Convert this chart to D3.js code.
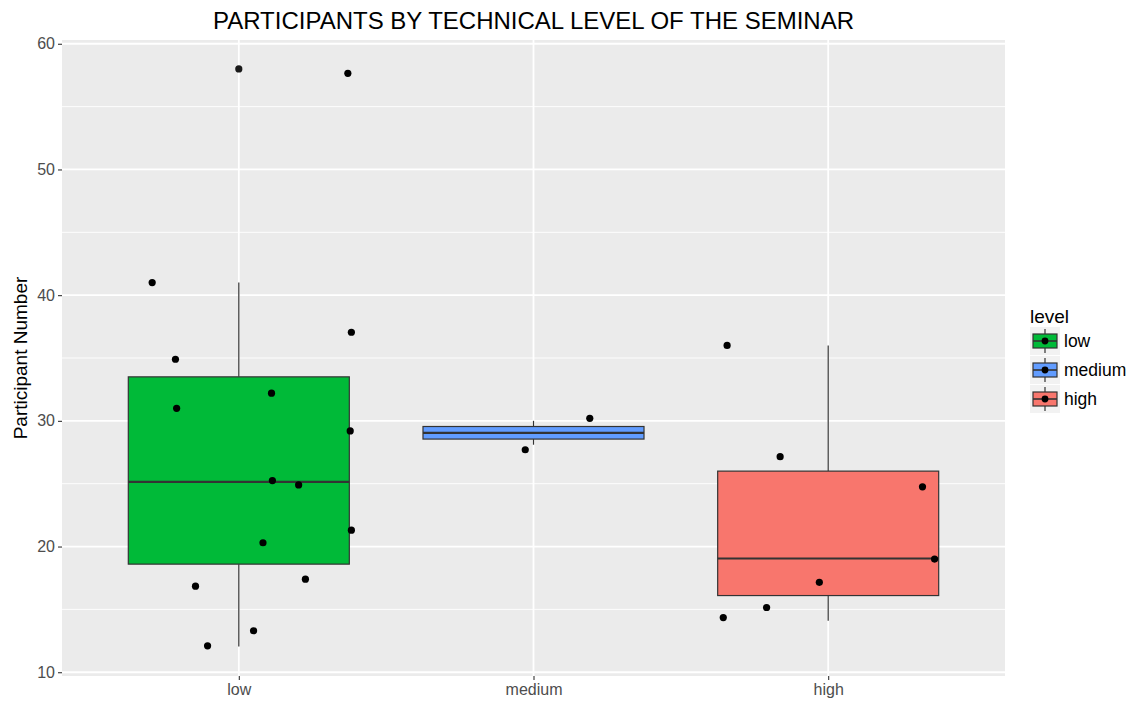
<!DOCTYPE html>
<html>
<head>
<meta charset="utf-8">
<script src="https://cdn.jsdelivr.net/npm/d3@7"></script>
<style>
  body { margin: 0; background: #fff; }
  text { font-family: "Liberation Sans", Arial, sans-serif; }
</style>
</head>
<body>
<div id="chart"></div>
<script>
// categories and colours
var levels = ["low", "medium", "high"];
var levelColors = ["#00BA38", "#619CFF", "#F8766D"];

// box statistics
var q1 = [18.6, 28.55, 16.1];
var medians = [25.15, 29.05, 19.05];
var q3 = [33.5, 29.55, 26.0];
var whiskerLow = [12.05, 28.1, 14.1];
var whiskerHigh = [41.0, 30.0, 36.0];

// outliers (drawn at the category centre)
var outlierLevel = ["low"];
var outlierValue = [58.0];

// jittered observations: level, value, horizontal offset (category units)
var pointLevel = ["low","low","low","low","low","low","low","low","low","low","low","low","low","low","low",
                  "medium","medium",
                  "high","high","high","high","high","high","high"];
var pointValue = [41.0, 37.05, 34.9, 32.2, 31.0, 29.2, 25.25, 24.9, 21.3, 20.3, 17.4, 16.85, 13.3, 12.1, 57.65,
                  30.2, 27.7,
                  36.0, 27.15, 24.75, 19.0, 17.15, 15.15, 14.35];
var pointJitter = [-0.294, 0.382, -0.215, 0.111, -0.211, 0.378, 0.114, 0.203, 0.382, 0.082, 0.226, -0.147, 0.05, -0.106, 0.37,
                   0.191, -0.028,
                   -0.343, -0.163, 0.32, 0.361, -0.03, -0.209, -0.356];

var yTicks = [10, 20, 30, 40, 50, 60];
var yMinor = [15, 25, 35, 45, 55];

var W = 1133, H = 706;
var margin = { top: 40, right: 128, bottom: 30, left: 62 };
var width = W - margin.left - margin.right,
    height = H - margin.top - margin.bottom;

var svg = d3.select("#chart").append("svg")
    .attr("width", W).attr("height", H);

var g = svg.append("g").attr("transform", "translate(" + margin.left + "," + margin.top + ")");

var x = d3.scalePoint().domain(levels).range([0, width]).padding(0.6);
var step = x.step();
var y = d3.scaleLinear().domain([9.7, 60.3]).range([height, 0]);
var color = d3.scaleOrdinal().domain(levels).range(levelColors);

// panel
g.append("rect").attr("width", width).attr("height", height).attr("fill", "#EBEBEB");

g.selectAll("line.minor").data(yMinor).enter().append("line")
    .attr("x1", 0).attr("x2", width)
    .attr("y1", function (d) { return y(d); }).attr("y2", function (d) { return y(d); })
    .attr("stroke", "#fff").attr("stroke-width", 0.9);

g.selectAll("line.major").data(yTicks).enter().append("line")
    .attr("x1", 0).attr("x2", width)
    .attr("y1", function (d) { return y(d); }).attr("y2", function (d) { return y(d); })
    .attr("stroke", "#fff").attr("stroke-width", 1.8);

g.selectAll("line.vmajor").data(levels).enter().append("line")
    .attr("x1", function (d) { return x(d); }).attr("x2", function (d) { return x(d); })
    .attr("y1", 0).attr("y2", height)
    .attr("stroke", "#fff").attr("stroke-width", 1.8);

// axes
var yAxis = g.append("g").call(d3.axisLeft(y).tickValues(yTicks).tickSize(4).tickPadding(3));
var xAxis = g.append("g").attr("transform", "translate(0," + height + ")")
    .call(d3.axisBottom(x).tickSize(4).tickPadding(4));
[yAxis, xAxis].forEach(function (a) {
    a.select(".domain").remove();
    a.selectAll(".tick line").attr("stroke", "#333").attr("stroke-width", 1.1);
    a.selectAll(".tick text").attr("fill", "#4D4D4D").style("font-size", "16px")
        .style("font-family", "'Liberation Sans', Arial, sans-serif");
});

// boxes
var boxW = 0.75 * step;
var boxes = g.selectAll("g.box").data(levels).enter().append("g").attr("class", "box");

boxes.append("line")
    .attr("x1", function (d) { return x(d); }).attr("x2", function (d) { return x(d); })
    .attr("y1", function (d, i) { return y(whiskerHigh[i]); })
    .attr("y2", function (d, i) { return y(q3[i]); })
    .attr("stroke", "#333").attr("stroke-width", 1.2);
boxes.append("line")
    .attr("x1", function (d) { return x(d); }).attr("x2", function (d) { return x(d); })
    .attr("y1", function (d, i) { return y(q1[i]); })
    .attr("y2", function (d, i) { return y(whiskerLow[i]); })
    .attr("stroke", "#333").attr("stroke-width", 1.2);
boxes.append("rect")
    .attr("x", function (d) { return x(d) - boxW / 2; })
    .attr("width", boxW)
    .attr("y", function (d, i) { return y(q3[i]); })
    .attr("height", function (d, i) { return y(q1[i]) - y(q3[i]); })
    .attr("fill", function (d) { return color(d); })
    .attr("stroke", "#333").attr("stroke-width", 1.2);
boxes.append("line")
    .attr("x1", function (d) { return x(d) - boxW / 2; })
    .attr("x2", function (d) { return x(d) + boxW / 2; })
    .attr("y1", function (d, i) { return y(medians[i]); })
    .attr("y2", function (d, i) { return y(medians[i]); })
    .attr("stroke", "#333").attr("stroke-width", 2.2);

// outliers
g.selectAll("circle.out").data(outlierValue).enter().append("circle")
    .attr("cx", function (d, i) { return x(outlierLevel[i]); })
    .attr("cy", function (d) { return y(d); })
    .attr("r", 3.6).attr("fill", "#1a1a1a");

// jittered points
g.selectAll("circle.pt").data(pointValue).enter().append("circle")
    .attr("cx", function (d, i) { return x(pointLevel[i]) + pointJitter[i] * step; })
    .attr("cy", function (d) { return y(d); })
    .attr("r", 3.6).attr("fill", "#000");

// title
svg.append("text")
    .attr("x", margin.left + width / 2).attr("y", 29)
    .attr("text-anchor", "middle")
    .style("font-size", "24px").attr("fill", "#000")
    .text("PARTICIPANTS BY TECHNICAL LEVEL OF THE SEMINAR");

// y axis title
svg.append("text")
    .attr("transform", "translate(27," + (margin.top + height / 2) + ") rotate(-90)")
    .attr("text-anchor", "middle")
    .style("font-size", "19px").attr("fill", "#000")
    .text("Participant Number");

// legend
var lg = svg.append("g").attr("transform", "translate(1030,323)");
lg.append("text").attr("x", 0).attr("y", 0)
    .style("font-size", "19px").attr("fill", "#000").text("level");

var keyH = 29, keyW = 30;
var keys = lg.selectAll("g.key").data(levels).enter().append("g")
    .attr("transform", function (d, i) { return "translate(0," + (4 + i * keyH) + ")"; });
keys.append("rect").attr("width", keyW).attr("height", keyH - 1).attr("fill", "#F2F2F2");
keys.append("line")
    .attr("x1", keyW / 2).attr("x2", keyW / 2).attr("y1", 2).attr("y2", keyH - 3)
    .attr("stroke", "#333").attr("stroke-width", 1.2);
keys.append("rect")
    .attr("x", 3).attr("y", 7).attr("width", keyW - 6).attr("height", keyH - 15)
    .attr("fill", function (d) { return color(d); })
    .attr("stroke", "#333").attr("stroke-width", 1.2);
keys.append("line")
    .attr("x1", 3).attr("x2", keyW - 3).attr("y1", (keyH - 1) / 2).attr("y2", (keyH - 1) / 2)
    .attr("stroke", "#333").attr("stroke-width", 1.6);
keys.append("circle").attr("cx", keyW / 2).attr("cy", (keyH - 1) / 2).attr("r", 3.4).attr("fill", "#000");
keys.append("text").attr("x", keyW + 4).attr("y", (keyH - 1) / 2 + 6)
    .style("font-size", "17.5px").attr("fill", "#000")
    .text(function (d) { return d; });
</script>
</body>
</html>
